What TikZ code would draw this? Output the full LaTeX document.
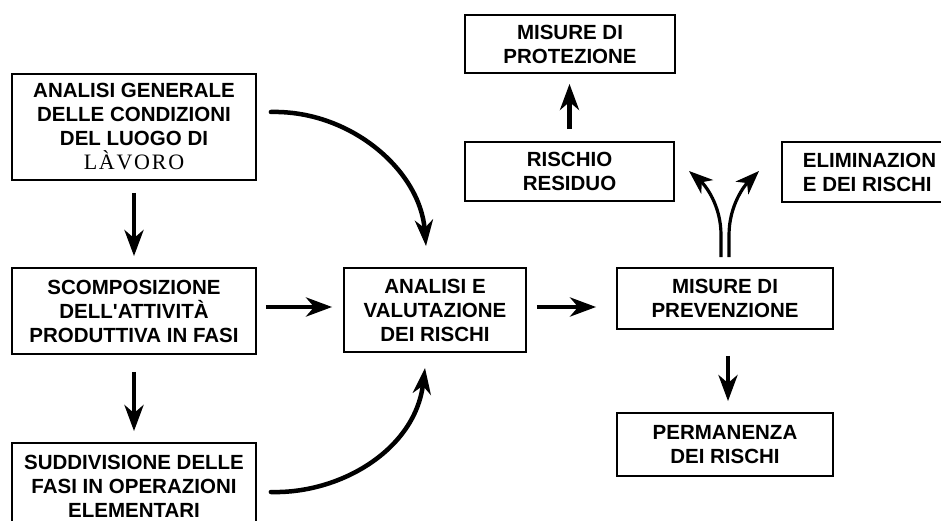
\documentclass[tikz,border=0pt]{standalone}
\usepackage{fontspec}
\setmainfont{Liberation Sans}
\newfontfamily\serifx[LetterSpace=8]{Liberation Serif}
\usetikzlibrary{arrows.meta}
\tikzset{
  box/.style={draw, line width=1.8pt, align=center, inner sep=0pt,
    font=\bfseries\fontsize{20.5}{24}\selectfont},
  arr/.style={line width=4.5pt, -{Stealth[length=26pt,width=19pt,inset=8pt]}},
  curvearr/.style={line width=4.5pt, line cap=round, -{Stealth[length=26pt,width=18pt,inset=8pt]}},
  forkarr/.style={line width=3.2pt, -{Stealth[length=24pt,width=18pt,inset=7pt]}},
}
\begin{document}
\begin{tikzpicture}[x=1pt,y=-1pt]
\useasboundingbox (0,0) rectangle (941,521);
\fill[white] (0,0) rectangle (941,521);
\clip (0,0) rectangle (941,521);

% boxes
\node[box, minimum width=244pt, minimum height=106pt] (A) at (134,127)
  {ANALISI GENERALE\\DELLE CONDIZIONI\\DEL LUOGO DI\\{\serifx\mdseries\fontsize{22}{24}\selectfont LÀVORO}};
\node[box, minimum width=244pt, minimum height=86pt] (B) at (134,311)
  {SCOMPOSIZIONE\\DELL\textquotesingle ATTIVITÀ\\PRODUTTIVA IN FASI};
\node[box, minimum width=244pt, minimum height=87pt] (C) at (134,486.5)
  {SUDDIVISIONE DELLE\\FASI IN OPERAZIONI\\ELEMENTARI};
\node[box, minimum width=182pt, minimum height=84pt] (V) at (435,310)
  {ANALISI E\\VALUTAZIONE\\DEI RISCHI};
\node[box, minimum width=216pt, minimum height=61pt] (P) at (725,298.5)
  {MISURE DI\\PREVENZIONE};
\node[box, minimum width=216pt, minimum height=63pt] (Perm) at (725,444.5)
  {PERMANENZA\\DEI RISCHI};
\node[box, minimum width=209pt, minimum height=59pt] (R) at (569.5,171.5)
  {RISCHIO\\RESIDUO};
\node[box, minimum width=210pt, minimum height=58pt] (Prot) at (570,44)
  {MISURE DI\\PROTEZIONE};
\node[box, align=left, anchor=west, inner xsep=21pt, minimum height=60pt] (E) at (781,172)
  {ELIMINAZION\\E DEI RISCHI};

% straight arrows
\draw[arr, shorten <=12pt, shorten >=11pt] (A) -- (B);
\draw[arr, shorten <=17pt, shorten >=11pt] (B) -- (C);
\draw[arr, shorten <=9pt, shorten >=11pt] ([yshift=4pt]B.east) -- ([yshift=3pt]V.west);
\draw[arr, shorten <=10pt, shorten >=20pt] ([yshift=3pt]V.east) -- ([yshift=-8.5pt]P.west);
\draw[arr, shorten <=26pt, shorten >=11pt] ([xshift=3pt]P.south) -- ([xshift=3pt]Perm.north);
\draw[arr, shorten <=12pt, shorten >=10pt] (R.north) -- (R.north |- Prot.south);

% curved arrows
\draw[curvearr] ([shift={(14pt,15pt)}]A.east) .. controls (350,110) and (420,170) .. ([shift={(-9pt,21pt)}]V.north);
\draw[curvearr] ([shift={(14pt,-5.5pt)}]C.east) .. controls (340,494) and (415,450) .. ([shift={(-10pt,-15pt)}]V.south);

% fork
\coordinate (fl) at (689,171);
\coordinate (fr) at (759,171);
\draw[forkarr] ([shift={(-4pt,10pt)}]P.north) -- (721,235) .. controls (721,205) and (705,185) .. (fl);
\draw[forkarr] ([shift={(4pt,10pt)}]P.north) -- (729,235) .. controls (729,205) and (745,185) .. (fr);
\end{tikzpicture}
\end{document}
